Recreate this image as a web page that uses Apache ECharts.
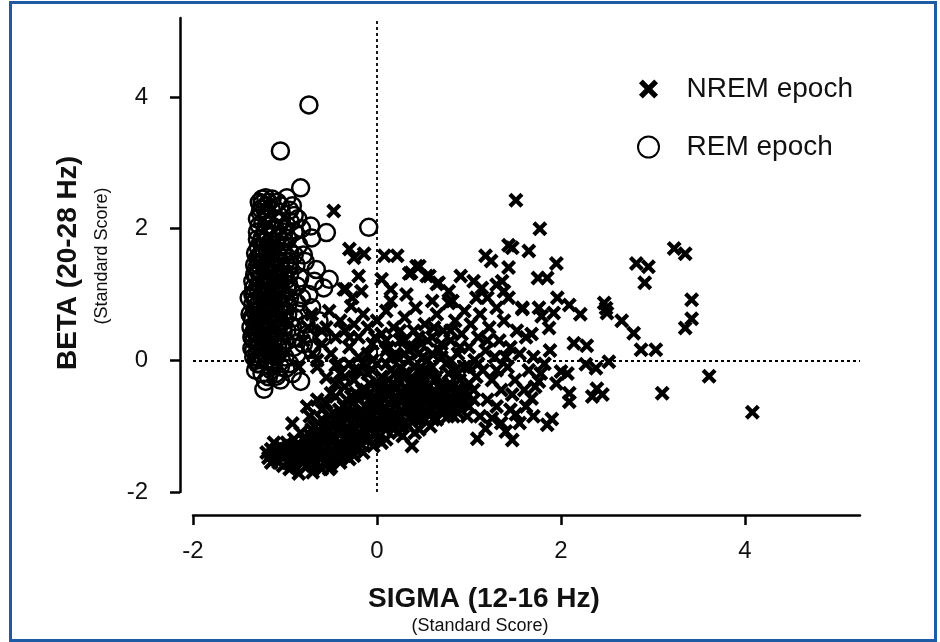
<!DOCTYPE html>
<html>
<head>
<meta charset="utf-8">
<script src="https://cdn.jsdelivr.net/npm/echarts@6/dist/echarts.min.js"></script>
<style>
html,body{margin:0;padding:0;background:#fff;}
#chart{width:940px;height:642px;}
</style>
</head>
<body>
<div id="chart"></div>
<script>
// ---- data ----
const seriesNames = ['NREM epoch', 'REM epoch'];
const xTickValues = [-2, 0, 2, 4];
const yTickValues = [-2, 0, 2, 4];
const xTitle = 'SIGMA (12-16 Hz)';
const yTitle = 'BETA (20-28 Hz)';
const subTitle = '(Standard Score)';

const remPoints = [
[-0.74,3.88],[-1.05,3.18],[-0.83,2.62],[-0.09,2.02],[-0.55,1.94],[-0.71,1.86],[-0.72,2.04],[-0.98,2.47],[-1.21,2.47],[-1.18,2.4],[-1.25,2.38],[-0.95,2.28],[-0.9,2.2],
[-1.39,0.95],[-1.3,1.84],[-1.32,1.63],[-1.36,0.18],[-1.37,0.5],[-1.38,0.7],[-1.35,1.2],[-1.33,1.45],[-1.28,2.05],[-1.27,2.25],[-1.36,0.35],[-1.34,0.05],[-1.3,-0.05],
[-1.21,-0.32],[-1.23,-0.44],[-1.09,-0.24],[-0.99,-0.12],[-0.83,-0.32],[-1.15,-0.15],[-1.25,-0.2],[-1.28,-0.05],
[-0.66,1.38],[-0.52,1.23],[-0.68,1.2],[-0.58,1.1],[-0.87,1.13],[-0.74,1.0],[-0.87,0.87],[-0.71,0.8],[-0.63,0.6],[-0.77,0.55],[-0.88,0.34],[-0.6,0.34],[-0.71,0.17],[-0.87,0.09],[-1.04,0.18],[-0.8,1.6],[-0.85,1.75],[-0.78,1.5],[-0.9,1.95],[-0.82,2.0],[-0.88,1.45],[-0.95,1.3],[-0.93,1.05],[-0.97,0.7],[-0.92,0.5],[-0.8,0.25],[-0.75,0.4],[-0.95,-0.05],[-0.9,0.2],[-1.0,0.05],[-0.98,2.05],[-1.0,1.8],[-1.02,1.6],
[-1.3,0.1],[-1.28,0.25],[-1.31,0.4],[-1.26,0.55],[-1.3,0.65],[-1.27,0.8],[-1.32,0.9],[-1.25,1.0],[-1.3,1.1],[-1.27,1.25],[-1.29,1.35],[-1.25,1.5],[-1.28,1.58],[-1.24,1.7],[-1.26,1.8],[-1.22,1.95],[-1.24,2.1],[-1.2,2.2],[-1.22,2.3],
[-1.2,0.0],[-1.18,0.15],[-1.21,0.3],[-1.17,0.45],[-1.2,0.6],[-1.16,0.72],[-1.19,0.85],[-1.15,0.95],[-1.2,1.05],[-1.16,1.18],[-1.19,1.3],[-1.15,1.42],[-1.18,1.55],[-1.14,1.65],[-1.17,1.78],[-1.13,1.9],[-1.16,2.05],[-1.12,2.15],[-1.15,2.3],
[-1.1,0.05],[-1.08,0.2],[-1.11,0.35],[-1.07,0.5],[-1.1,0.62],[-1.06,0.75],[-1.09,0.9],[-1.05,1.0],[-1.1,1.12],[-1.06,1.25],[-1.09,1.38],[-1.05,1.5],[-1.08,1.62],[-1.04,1.75],[-1.07,1.88],[-1.03,2.0],[-1.06,2.12],[-1.05,2.35],
[-1.0,0.3],[-0.98,0.45],[-1.01,0.6],[-0.97,0.85],[-1.0,0.95],[-0.96,1.15],[-0.99,1.22],[-0.96,1.4],[-0.99,1.5],[-0.95,1.65],[-0.97,1.85],[-0.94,2.1],
[-1.33,0.75],[-1.34,0.3],[-1.33,1.0],[-1.32,0.55],[-1.35,0.85],[-1.24,0.35],[-1.23,0.7],[-1.22,0.48],[-1.14,0.55],[-1.13,0.3],[-1.12,0.8],[-1.12,1.05],[-1.13,-0.05],[-1.25,0.15],[-1.22,0.9],[-1.23,1.15],
[-1.27,0.02],[-1.17,-0.08],[-1.05,-0.1],[-1.1,-0.2],
[-0.9,0.65],[-0.85,0.75],[-0.84,1.25],[-0.82,0.95],[-0.9,1.6],[-0.86,2.15],[-0.92,2.35],[-1.08,2.4],[-1.14,2.45],[-1.28,2.4],
[-1.34,0.15],[-1.33,0.45],[-1.35,0.62],[-1.34,1.1],[-1.31,1.28],[-1.3,1.55],[-1.29,1.72],[-1.3,1.95],[-1.26,2.3],[-1.29,0.2],[-1.26,0.45],[-1.28,0.7],[-1.24,0.95],[-1.28,1.45],[-1.23,1.6],[-1.22,1.8],[-1.2,2.05],[-1.21,0.1],[-1.18,0.38],[-1.17,0.62],[-1.18,1.0],[-1.16,1.35],[-1.15,1.7],[-1.14,2.0],[-1.12,0.15],[-1.1,0.45],[-1.08,0.7],[-1.08,1.05],[-1.07,1.3],[-1.03,1.65],[-1.01,1.95],[-1.04,2.25],[-1.02,0.42],[-1.0,0.75],[-0.98,1.1],[-0.95,1.5],[-0.95,0.95],[-1.32,-0.15],[-1.18,-0.25],[-1.05,-0.3],[-0.92,-0.2],[-1.3,2.15],[-1.25,2.45],
[-1.31,0.0],[-1.29,0.32],[-1.27,0.6],[-1.31,0.82],[-1.29,1.02],[-1.27,1.15],[-1.31,1.4],[-1.26,1.62],[-1.24,0.05],[-1.23,0.25],[-1.25,0.62],[-1.21,0.8],[-1.23,1.05],[-1.21,1.25],[-1.22,1.4],[-1.19,0.2],[-1.17,0.3],[-1.19,0.52],[-1.16,0.85],[-1.18,1.12],[-1.17,1.25],[-1.14,1.5],[-1.12,0.0],[-1.14,0.42],[-1.11,0.68],[-1.13,0.92],[-1.11,1.2],[-1.12,1.32],[-1.08,0.1],[-1.07,0.35],[-1.06,0.6],[-1.05,0.85],[-1.07,1.15],[-1.04,1.4],[-1.03,0.25],[-1.02,0.5],[-1.03,0.8],[-1.02,1.3],[-1.35,0.4],[-1.36,0.65],[-1.35,1.0],[-1.33,1.3],[-1.2,1.7],[-1.18,1.88],[-1.1,1.8],[-1.12,2.0],[-1.25,1.85],[-1.2,2.35]
];

const nremPoints = [
[1.51,2.43],[1.77,2.0],[1.47,1.71],[1.43,1.75],[1.65,1.66],[1.95,1.47],[1.75,1.25],[1.85,1.25],[3.23,1.7],[3.35,1.62],[2.82,1.47],[2.95,1.42],[2.91,1.18],[3.42,0.92],[3.42,0.63],[3.35,0.49],[2.49,0.79],[2.5,0.72],[2.47,0.87],[2.66,0.6],[2.79,0.41],[2.14,0.26],[2.28,0.22],[2.87,0.16],[3.03,0.16],[1.96,0.95],[2.09,0.84],[2.21,0.7],[1.58,0.78],[1.76,0.8],[1.79,0.67],[1.92,0.72],[1.87,0.49],[1.68,0.4],[3.61,-0.24],[3.1,-0.5],[4.08,-0.79],[2.52,-0.02],[2.38,-0.12],[2.27,-0.06],[2.39,-0.43],[2.45,-0.52],[2.34,-0.55],[2.09,-0.5],[2.09,-0.63],[2.0,-0.17],[2.07,-0.2],[1.9,-0.89],[1.85,-0.98],[1.47,-1.21],[1.09,-1.19],[1.68,-0.58],[1.78,-0.2],[1.76,-0.32],[1.47,-0.52],[1.51,-0.82],[1.25,-0.88],[1.4,-1.08],[1.18,-1.04],
[-0.47,2.27],[-0.3,1.69],[-0.25,1.56],[-0.14,1.62],[-0.2,1.28],[0.08,1.59],[0.22,1.59],[-0.34,1.08],[-0.28,0.82],[-0.17,1.05],[0.05,1.23],[0.15,1.08],[0.35,1.32],[0.43,1.43],[0.54,1.28],[0.65,1.16],[0.82,0.9],[0.91,1.28],[1.18,1.59],[1.24,1.51],[1.43,1.41],[1.36,1.2],[1.43,0.95],[1.58,0.8],[1.05,1.2],[1.14,1.1],[0.78,0.87],[1.38,1.05],[0.46,1.43],[0.37,1.33],[0.57,1.28],[0.67,1.18],[-0.36,1.08],[-0.27,0.95],[-0.52,0.75],[-0.71,0.7],
[-0.55,0.5],[-0.45,0.35],[-0.4,0.6],[-0.35,0.45],[-0.3,0.2],[-0.25,0.55],[-0.2,0.35],[-0.15,0.7],[-0.1,0.5],[-0.05,0.25],[0.0,0.6],[0.05,0.4],[0.1,0.75],[0.12,0.2],[0.18,0.5],[0.22,0.05],[0.25,0.3],[0.3,0.65],[0.35,0.15],[0.4,0.45],[0.42,0.8],[0.48,0.25],[0.52,0.55],[0.55,0.0],[0.6,0.35],[0.65,0.7],[0.68,0.15],[0.72,0.45],[0.75,-0.05],[0.8,0.3],[0.85,0.6],[0.88,0.1],[0.92,0.4],[0.95,-0.1],[1.0,0.2],[1.02,0.55],[1.06,0.0],[1.1,0.35],[1.12,0.7],[1.15,-0.15],[1.18,0.15],[1.22,0.5],[1.25,-0.3],[1.28,0.05],[1.3,0.8],[1.33,0.3],[1.35,-0.45],[1.38,0.6],[1.42,-0.1],[1.45,0.2],[1.5,-0.3],[1.52,0.45],[1.55,0.1],[1.6,-0.45],[1.62,0.35],[1.65,-0.15],[1.7,0.05],[1.72,-0.4],[1.82,-0.05],[1.88,0.15],[1.95,-0.35],[-0.5,0.1],[-0.6,0.25],[-0.65,0.0],[-0.42,-0.05],[-0.2,0.05],[0.0,-0.05],[0.15,0.9],[0.32,1.0],[0.6,0.9],[0.78,1.05],[0.95,0.75],[1.08,0.95],[1.2,0.95],[1.3,1.15],[0.3,-0.2],[0.5,-0.25],[0.7,-0.35],[0.9,-0.3],[1.05,-0.45],[1.2,-0.6],[1.3,-0.7],[1.0,-0.7],[0.85,-0.6],[1.12,-0.85],[1.35,-0.95],[1.45,-0.75],[1.62,-0.7],[1.55,-0.95],[1.7,-0.85],
[-1.2,-1.4],[-1.15,-1.35],[-1.1,-1.5],[-1.05,-1.3],[-1.0,-1.45],[-1.12,-1.25],[-1.02,-1.6],
[-0.95,-1.35],[-0.92,-1.5],[-0.9,-1.2],[-0.88,-1.62],[-0.85,-1.4],[-0.83,-1.1],[-0.8,-1.55],[-0.85,-1.72],[-0.92,-0.96],[-0.76,-0.7],
[-0.78,-1.3],[-0.75,-1.45],[-0.72,-1.15],[-0.7,-1.6],[-0.68,-1.0],[-0.65,-1.35],[-0.62,-1.5],[-0.6,-0.9],[-0.66,-1.2],[-0.73,-0.85],[-0.6,-1.65],
[-0.58,-1.25],[-0.55,-1.4],[-0.53,-1.05],[-0.5,-1.55],[-0.48,-0.8],[-0.46,-1.2],[-0.44,-1.45],[-0.42,-0.95],[-0.4,-1.3],[-0.55,-0.65],[-0.5,-0.5],[-0.45,-0.35],[-0.52,-1.65],[-0.55,-0.26],[-0.45,-0.08],
[-0.38,-1.1],[-0.36,-0.7],[-0.34,-1.4],[-0.32,-0.9],[-0.3,-1.25],[-0.28,-0.55],[-0.26,-1.05],[-0.24,-0.8],[-0.22,-1.35],[-0.2,-0.6],[-0.35,-0.4],[-0.25,-0.3],[-0.3,-1.5],[-0.22,-1.15],
[-0.18,-0.95],[-0.16,-0.45],[-0.14,-1.2],[-0.12,-0.7],[-0.1,-1.0],[-0.08,-0.35],[-0.06,-0.85],[-0.04,-1.3],[-0.02,-0.55],[0.0,-1.1],[-0.1,-0.2],[-0.15,-1.4],[-0.05,-0.15],
[0.02,-0.75],[0.04,-0.4],[0.06,-1.0],[0.08,-0.6],[0.1,-1.2],[0.12,-0.3],[0.14,-0.85],[0.16,-0.5],[0.18,-1.05],[0.2,-0.7],[0.05,-1.25],[0.15,-0.15],[0.1,-0.05],
[0.22,-0.4],[0.24,-0.95],[0.26,-0.6],[0.28,-1.15],[0.3,-0.8],[0.32,-0.45],[0.34,-1.0],[0.36,-0.65],[0.38,-1.3],[0.4,-0.3],[0.25,-0.1],[0.35,0.0],
[0.42,-0.85],[0.44,-0.5],[0.46,-1.05],[0.48,-0.7],[0.5,-0.35],[0.52,-0.9],[0.55,-0.55],[0.58,-1.0],[0.6,-0.75],[0.45,-0.15],[0.55,-0.2],
[0.62,-0.45],[0.65,-0.9],[0.68,-0.6],[0.7,-0.8],[0.73,-0.4],[0.76,-0.7],[0.8,-0.55],[0.83,-0.85],[0.86,-0.45],[0.9,-0.65],[0.65,-0.25],[0.78,-0.2],
[0.95,-0.5],[1.0,-0.35],[1.05,-0.6],[0.98,-0.85],[1.08,-0.25],
[-0.8,0.3],[-0.7,0.1],[-0.6,0.45],[-0.75,0.5],[-0.65,-0.1],[-0.85,-0.1],
[-1.18,-1.48],[-1.08,-1.38],[-0.98,-1.25],[-0.97,-1.55],[-0.9,-1.42],[-0.87,-1.28],[-0.82,-1.48],[-0.8,-1.2],[-0.77,-1.62],[-0.74,-1.35],[-0.71,-1.05],[-0.69,-1.5],[-0.67,-1.25],[-0.64,-0.95],[-0.63,-1.42],[-0.61,-1.15],[-0.57,-1.55],[-0.56,-1.0],[-0.54,-1.3],[-0.51,-0.85],[-0.49,-1.15],[-0.47,-1.4],[-0.43,-1.1],[-0.41,-0.75],[-0.39,-1.45],[-0.37,-0.95],[-0.35,-1.2],[-0.33,-0.6],[-0.31,-1.05],[-0.29,-1.35],[-0.27,-0.8],[-0.25,-1.2],[-0.23,-0.5],[-0.21,-0.95],[-0.19,-1.25],[-0.17,-0.75],[-0.15,-1.05],[-0.13,-0.55],[-0.11,-0.85],[-0.09,-1.2],[-0.07,-0.6],[-0.05,-1.0],[-0.03,-0.75],[-0.01,-0.4],[0.01,-0.9],[0.03,-1.15],[0.05,-0.55],[0.07,-0.8],[0.09,-0.35],[0.11,-1.0],[0.13,-0.65],[0.15,-0.9],[0.17,-0.35],[0.19,-0.6],[0.21,-0.85],[0.23,-1.1],[0.25,-0.5],[0.27,-0.75],[0.29,-0.25],[0.31,-0.95],[0.33,-0.6],[0.35,-0.35],[0.37,-0.85],[0.39,-0.5],[0.41,-1.1],[0.43,-0.65],[0.45,-0.35],[0.47,-0.9],[0.49,-0.55],[0.51,-0.15],[0.53,-0.75],[0.56,-0.4],[0.59,-0.6],[0.61,-0.9],[0.63,-0.3],[0.66,-0.55],[0.69,-0.75],[0.71,-0.5],[0.74,-0.6],[0.77,-0.85],[0.79,-0.35],[0.82,-0.7],[0.84,-0.5],[0.88,-0.8],[0.92,-0.55],[-0.4,-0.2],[-0.3,-0.05],[-0.2,-0.15],[0.05,-0.25],[0.2,0.1],[0.3,0.3],[0.45,0.1],[0.6,-0.1],[0.25,0.45],[0.4,0.2],[0.7,0.05],[0.1,0.3],[-0.1,0.1],[-0.3,0.35],[0.55,0.3],[0.85,-0.15],[1.0,-0.1],[-1.05,-1.45],[-0.95,-1.65],[-0.7,-1.7],[-0.5,-1.62],[-0.4,-1.55],[-0.25,-1.45],
[-1.15,-1.55],[-1.13,-1.42],[-1.07,-1.55],[-1.0,-1.35],[-0.93,-1.3],[-0.89,-1.52],[-0.84,-1.3],[-0.79,-1.42],[-0.76,-1.25],[-0.72,-1.5],[-0.7,-1.3],[-0.66,-1.55],[-0.64,-1.1],[-0.62,-1.3],[-0.58,-1.45],[-0.57,-1.1],[-0.53,-1.2],[-0.5,-1.35],[-0.48,-1.0],[-0.45,-1.3],[-0.43,-0.85],[-0.4,-1.05],[-0.37,-1.3],[-0.34,-0.8],[-0.32,-1.15],[-0.28,-0.95],[-0.26,-0.65],[-0.24,-1.3],[-0.2,-0.8],[-0.18,-1.1],[-0.14,-0.9],[-0.12,-0.45],[-0.08,-1.05],[-0.06,-0.7],[-0.03,-0.95],[0.0,-0.65],[0.03,-0.5],[0.06,-0.85],[0.09,-0.5],[0.12,-0.8],[0.14,-0.45],[0.17,-0.95],[0.2,-0.55],[0.23,-0.3],[0.26,-0.85],[0.29,-0.55],[0.32,-0.7],[0.34,-0.2],[0.37,-0.45],[0.4,-0.75],[0.43,-0.4],[0.46,-0.6],[0.5,-0.8],[0.53,-0.45],[0.56,-0.7],[0.6,-0.5],[0.64,-0.65],[0.67,-0.4],[0.72,-0.65],[0.75,-0.5],[0.8,-0.4],[0.85,-0.65],[0.9,-0.45],[0.95,-0.65],[0.2,-0.2],[0.4,-0.1],[0.6,0.1],[0.8,0.0],[0.5,0.05],[0.3,0.1],[0.1,0.15],[-0.05,0.0],[-0.15,-0.05],[-0.25,-0.15],[-0.35,-0.25],[-0.45,-0.55],[-0.6,-0.75],[-0.65,-0.6],[0.7,0.25],[0.9,0.2],[1.1,-0.05],[1.2,0.3],[1.3,-0.15],[1.4,0.05],[0.45,0.35],[0.15,0.05],[-0.02,0.35],[0.62,0.5],[0.8,0.45]
];

// ---- chart ----
const FONT = '"Liberation Sans", Arial, Helvetica, sans-serif';
const crossPath = 'path://M2,0L5,3L8,0L10,2L7,5L10,8L8,10L5,7L2,10L0,8L3,5L0,2Z';
const crossLegendPath = 'path://M-0.5,-0.5L-0.49,-0.5M10.5,10.5L10.49,10.5M2,0L5,3L8,0L10,2L7,5L10,8L8,10L5,7L2,10L0,8L3,5L0,2Z';

const chart = echarts.init(document.getElementById('chart'), null, {renderer: 'canvas'});

const axisCommon = {
  type: 'value',
  interval: 2,
  splitLine: {show: false},
  axisLine: {show: true, onZero: false, lineStyle: {color: '#000', width: 2.5}},
  axisTick: {show: true, inside: false, length: 10, lineStyle: {color: '#000', width: 2.5}},
  axisLabel: {color: '#111', fontSize: 24, fontFamily: FONT}
};

chart.setOption({
  animation: false,
  backgroundColor: '#fff',
  grid: {left: 193, right: 80, top: 18, bottom: 150, containLabel: false},
  xAxis: Object.assign({}, axisCommon, {
    min: -2, max: 5.25, position: 'bottom', offset: 23,
    axisTick: Object.assign({}, axisCommon.axisTick, {customValues: xTickValues}),
    axisLabel: Object.assign({}, axisCommon.axisLabel, {customValues: xTickValues, margin: 24})
  }),
  yAxis: Object.assign({}, axisCommon, {
    min: -2, max: 5.2, position: 'left', offset: 13,
    axisTick: Object.assign({}, axisCommon.axisTick, {customValues: yTickValues}),
    axisLabel: Object.assign({}, axisCommon.axisLabel, {customValues: yTickValues, margin: 32})
  }),
  legend: {
    orient: 'vertical',
    left: 632, top: 70,
    itemWidth: 66, itemHeight: 21, itemGap: 30,
    symbolKeepAspect: true,
    textStyle: {fontSize: 28, color: '#111', fontFamily: FONT},
    data: [
      {name: seriesNames[0], icon: crossLegendPath},
      {name: seriesNames[1], icon: 'circle'}
    ]
  },
  series: [
    {
      name: seriesNames[1],
      type: 'scatter',
      data: remPoints,
      symbol: 'circle',
      symbolSize: 17,
      itemStyle: {color: 'rgba(255,255,255,0)', borderColor: '#000', borderWidth: 2.5, opacity: 1},
      z: 2
    },
    {
      name: seriesNames[0],
      type: 'scatter',
      data: nremPoints,
      symbol: crossPath,
      symbolSize: 15,
      itemStyle: {color: '#000', borderWidth: 0, opacity: 1},
      z: 3,
      markLine: {
        silent: true,
        symbol: ['none', 'none'],
        label: {show: false},
        lineStyle: {color: '#000', type: [3, 3], width: 1.8},
        data: [{xAxis: 0}, {yAxis: 0}]
      }
    }
  ],
  graphic: [
    {type: 'rect', shape: {x: 10.5, y: 2.5, width: 925, height: 638}, style: {fill: 'none', stroke: '#1d5ca5', lineWidth: 3}, silent: true},
    {type: 'text', x: 484, y: 599, style: {text: xTitle, font: 'bold 28px ' + FONT, fill: '#111', textAlign: 'center', textVerticalAlign: 'middle'}},
    {type: 'text', x: 480, y: 626, style: {text: subTitle, font: '18px ' + FONT, fill: '#111', textAlign: 'center', textVerticalAlign: 'middle'}},
    {type: 'text', x: 68, y: 263, rotation: Math.PI / 2, style: {text: yTitle, font: 'bold 28px ' + FONT, fill: '#111', textAlign: 'center', textVerticalAlign: 'middle'}},
    {type: 'text', x: 102, y: 256, rotation: Math.PI / 2, style: {text: subTitle, font: '18px ' + FONT, fill: '#111', textAlign: 'center', textVerticalAlign: 'middle'}}
  ]
});
</script>
</body>
</html>
